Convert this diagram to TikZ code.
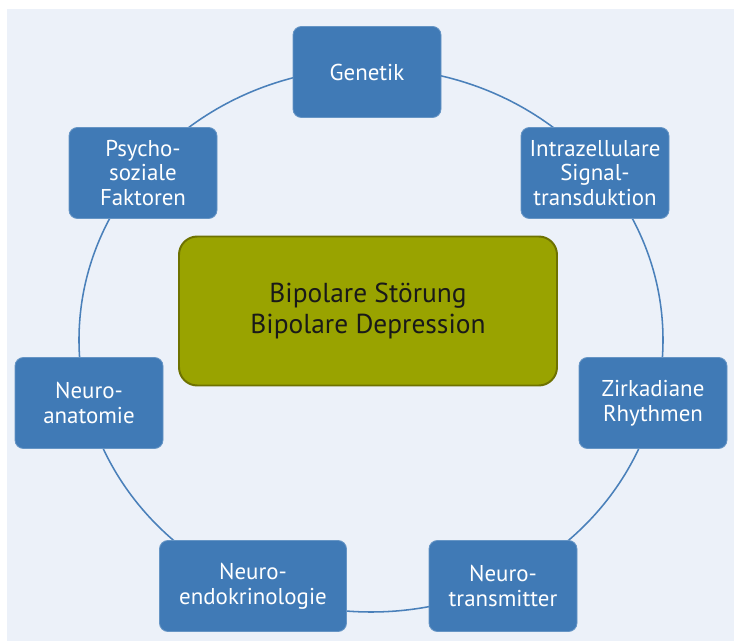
\documentclass[tikz,border=0pt]{standalone}
\usepackage{fontspec}
\setmainfont{PT Sans}
\usepackage{tikz}
\usetikzlibrary{positioning}
\definecolor{figpanel}{RGB}{236,241,249}
\definecolor{figblue}{RGB}{64,122,182}
\definecolor{figring}{RGB}{74,128,186}
\definecolor{figolive}{RGB}{153,163,0}
\definecolor{figolivedk}{RGB}{110,114,0}
\tikzset{
  bxB/.style={draw=figblue!80!white, fill=figblue, rounded corners=6pt,
              minimum width=#1, minimum height=2.275cm, align=center,
              text=white, inner sep=2pt, line width=0.6pt,
              font=\fontsize{16.3}{17.5}\selectfont},
  bxM/.style={draw=figolivedk, fill=figolive, rounded corners=13pt,
              minimum width=9.45cm, minimum height=3.725cm, align=center,
              text=black!90, line width=1.4pt,
              font=\fontsize{19.5}{21.5}\selectfont},
  ring/.style={draw=figring, line width=1.1pt},
}
\begin{document}
\begin{tikzpicture}
  \useasboundingbox (0,0) rectangle (18.35,16.025);
  \fill[figpanel] (0.175,0) rectangle (18.35,15.8);

  % ring behind the boxes
  \coordinate (ctr) at (9.275,7.525);
  \draw[ring] (ctr) ellipse [x radius=7.3cm, y radius=6.8cm];

  \node[bxM] (bip) at (9.2,8.25) {Bipolare Störung\\Bipolare Depression};

  \node[bxB=3.7cm]   (gen)    at (9.175,14.225) {Genetik};
  \node[bxB=3.7cm]   (signal) at (14.875,11.7)  {Intrazellulare\\Signal-\\transduktion};
  \node[bxB=3.7cm]   (rhythm) at (16.325,5.95)  {Zirkadiane\\Rhythmen};
  \node[bxB=3.7cm]   (trans)  at (12.575,1.375) {Neuro-\\transmitter};
  \node[bxB=4.675cm] (endo)   at (6.325,1.375)  {Neuro-\\endokrinologie};
  \node[bxB=3.7cm]   (anat)   at (2.225,5.95)   {Neuro-\\anatomie};
  \node[bxB=3.7cm]   (psy)    at (3.575,11.7)   {Psycho-\\soziale\\Faktoren};
\end{tikzpicture}
\end{document}
